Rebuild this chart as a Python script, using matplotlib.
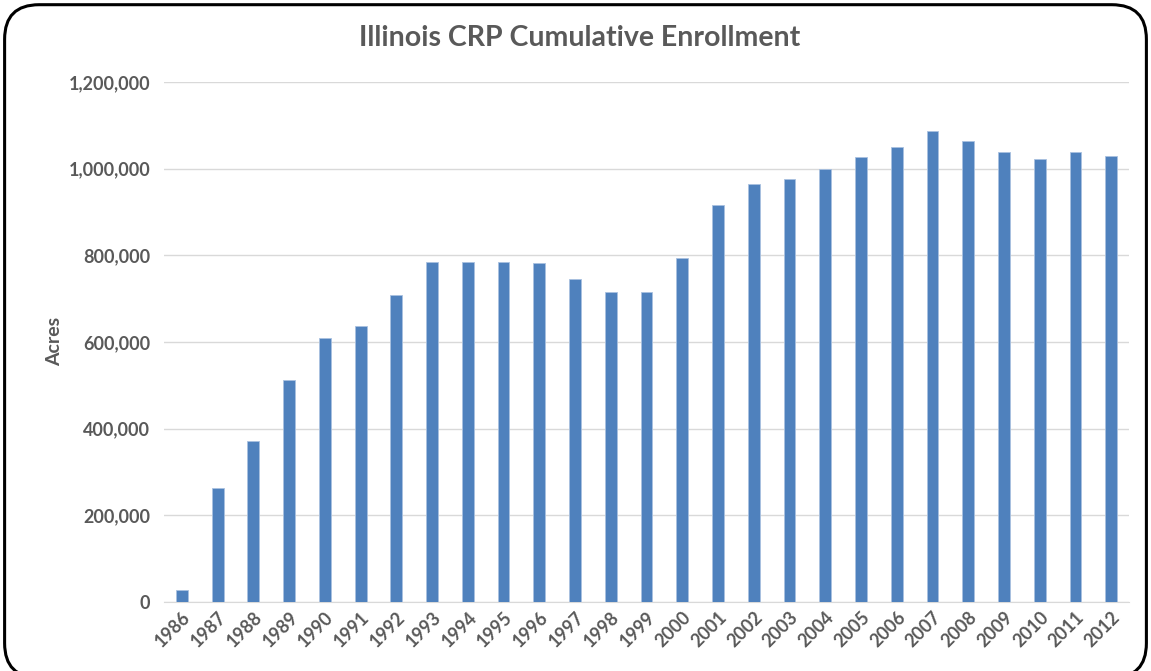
import numpy as np
import matplotlib.pyplot as plt
from matplotlib.patches import FancyBboxPatch
from matplotlib.ticker import FuncFormatter

# Cumulative CRP enrollment in Illinois, acres by year
years = list(range(1986, 2013))
acres = [28000, 262000, 372000, 513000, 608000, 636000, 709000,
         785000, 785000, 785000, 783000, 745000, 716000, 714000,
         793000, 916000, 964000, 975000, 1000000, 1027000, 1050000,
         1087000, 1063000, 1037000, 1023000, 1037000, 1030000]

text_grey = '#595959'
plt.rcParams['font.family'] = ['Lato', 'DejaVu Sans']

fig = plt.figure(figsize=(11.51, 6.71), dpi=100)
ax = fig.add_axes([0.1425, 0.103, 0.8385, 0.775])

x = np.arange(len(years))
ax.bar(x, acres, width=0.33, color='#4f81bd', edgecolor='#a9c1e0', linewidth=0.6, zorder=3)

ax.set_ylim(0, 1200000)
ax.set_xlim(-0.5, len(years) - 0.5)
ax.set_yticks(np.arange(0, 1200001, 200000))
ax.yaxis.set_major_formatter(FuncFormatter(lambda v, p: '{:,.0f}'.format(v)))
ax.grid(axis='y', color='#d9d9d9', linewidth=1, zorder=0)

ax.set_xticks(x)
ax.set_xticklabels([str(y) for y in years], rotation=45, ha='right', va='top',
                   rotation_mode='anchor')

for side in ['top', 'right', 'left']:
    ax.spines[side].set_visible(False)
ax.spines['bottom'].set_color('#d9d9d9')
ax.tick_params(axis='both', length=0, labelsize=13, labelcolor=text_grey)
ax.tick_params(axis='y', pad=10)
ax.tick_params(axis='x', pad=5)
for lbl in ax.get_xticklabels() + ax.get_yticklabels():
    lbl.set_fontweight('bold')

ax.set_ylabel('Acres', fontsize=14, fontweight='bold', color=text_grey, labelpad=4)
fig.text(0.504, 0.943, 'Illinois CRP Cumulative Enrollment', ha='center', va='center',
         fontsize=20.5, fontweight='bold', color=text_grey)

# rounded chart border
border = FancyBboxPatch((0.004, -0.01), 0.992, 1.003, boxstyle='round,pad=0,rounding_size=0.03',
                        transform=fig.transFigure, facecolor='none', edgecolor='black',
                        linewidth=2.2, mutation_aspect=1151 / 671)
fig.patches.append(border)

fig.savefig('out.png', dpi=100)
